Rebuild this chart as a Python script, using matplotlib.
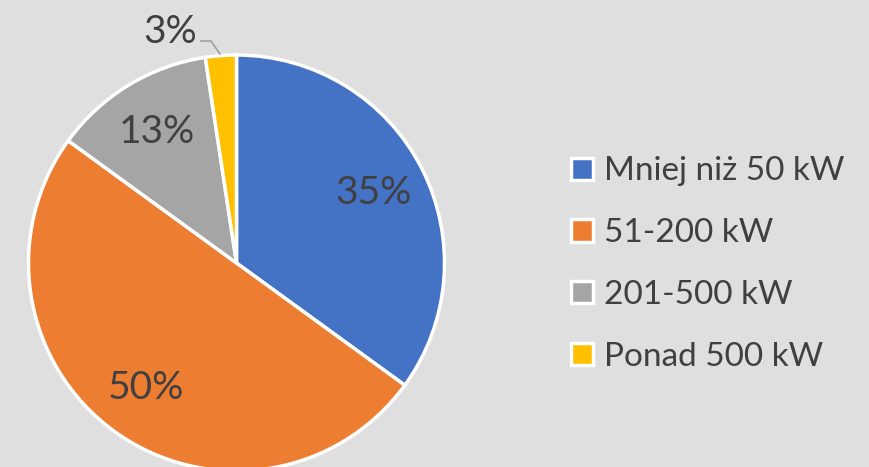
import matplotlib.pyplot as plt
import numpy as np

categories = ["Mniej niż 50 kW", "51-200 kW", "201-500 kW", "Ponad 500 kW"]
shares = [35, 50, 12.6, 2.4]
pct_labels = ["35%", "50%", "13%", "3%"]
colors = ["#4472C4", "#ED7D31", "#A5A5A5", "#FFC000"]

plt.rcParams['font.family'] = ['Lato', 'DejaVu Sans']
TEXT = "#404040"

W, H = 869, 467
fig = plt.figure(figsize=(W / 100, H / 100), dpi=100, facecolor="#dfdfdf")

cx, cy, r = 236.5, 263, 208
ax = fig.add_axes([(cx - r) / W, (H - cy - r) / H, 2 * r / W, 2 * r / H])
ax.set_facecolor("none")


def px(x, y):
    # pixel position -> pie data coordinates
    return (x - cx) / r, (cy - y) / r


wedges, _ = ax.pie(
    shares, colors=colors, startangle=90, counterclock=False, radius=1,
    wedgeprops=dict(edgecolor="white", linewidth=2.5),
)
ax.set_xlim(-1, 1)
ax.set_ylim(-1, 1)
ax.set_aspect("equal")
ax.axis("off")

for i, (w, lab) in enumerate(zip(wedges, pct_labels)):
    mid = np.deg2rad((w.theta1 + w.theta2) / 2)
    if i < 3:
        ax.text(0.74 * np.cos(mid), 0.74 * np.sin(mid), lab, ha="center",
                va="center", fontsize=28, color=TEXT)
    else:
        tx, ty = px(170, 32)
        ax.text(tx, ty, lab, ha="center", va="center", fontsize=28, color=TEXT,
                clip_on=False)
        pts = [px(201, 41), px(211, 41), px(220, 54)]
        ax.plot([p[0] for p in pts], [p[1] for p in pts], color="#a0a0a0",
                lw=1.2, clip_on=False)

leg = fig.legend(wedges, categories, loc="center left",
                 bbox_to_anchor=(571 / W, (H - 264) / H), frameon=False,
                 fontsize=24, labelcolor=TEXT, handlelength=0.65, handleheight=0.65,
                 handletextpad=0.35, labelspacing=0.95, borderpad=0,
                 borderaxespad=0)

fig.savefig("out.png", dpi=100, facecolor=fig.get_facecolor())
